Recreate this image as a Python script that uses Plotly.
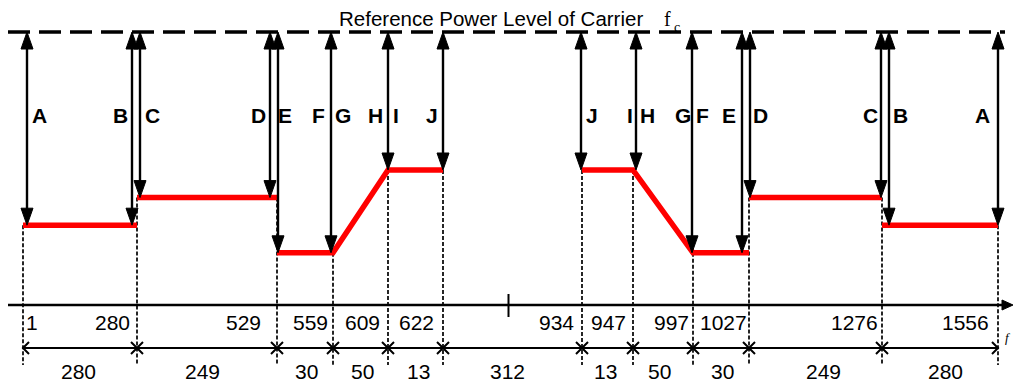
import plotly.graph_objects as go

# ---- data -------------------------------------------------------------
# Subcarrier index at each boundary of the spectrum mask
edge_index = [1, 280, 529, 559, 609, 622, 934, 947, 997, 1027, 1276, 1556]
# Number of subcarriers in each span between boundaries
span_width = [280, 249, 30, 50, 13, 312, 13, 50, 30, 249, 280]
# Mask level (steps below the carrier reference) at start / end of each span; None = no mask
span_level_start = [-7, -6, -8, -8, -5, None, -5, -5, -8, -6, -7]
span_level_end = [-7, -6, -8, -5, -5, None, -5, -8, -8, -6, -7]
# Level reached by each measurement arrow
arrow_level = [-7, -7, -6, -6, -8, -8, -5, -5, -5, -5, -8, -8, -6, -6, -7, -7]
# Letters naming the measured offsets
letter_text = ["A", "B", "C", "D", "E", "F", "G", "H", "I", "J",
               "J", "I", "H", "G", "F", "E", "D", "C", "B", "A"]

# ---- schematic placement (the drawing is not to scale) -----------------
edge_pos = [23, 137, 277, 333, 388, 443, 582, 633, 693, 749, 882, 998]
arrow_pos = [27, 132, 140, 270, 278, 331, 388, 443, 581, 636, 692, 742, 750, 881, 889, 998]
letter_pos = [39, 120, 152, 258, 285, 318, 343, 375, 396, 432,
              592, 630, 647, 683, 702, 729, 760, 870, 900, 982]
edge_label_pos = [32, 112, 243, 310, 362, 416, 556, 608, 671, 723, 854, 965]
span_label_pos = [78, 202, 306, 362, 418, 507, 605, 659, 722, 823, 945]

W, H = 1013, 382
Y0_PX = 32          # pixel row of the carrier reference line
PX_PER_STEP = 27.6  # pixels per level step


def lvl(py):
    """Pixel row -> level units."""
    return (Y0_PX - py) / PX_PER_STEP


def paper_y(py):
    return 1 - py / H


FONT = "Liberation Sans, Arial, sans-serif"
SERIF = "Liberation Serif, Times New Roman, serif"
BLACK = "#000000"

fig = go.Figure()

# carrier reference line
fig.add_trace(go.Scatter(x=[8, 1005], y=[0, 0], mode="lines",
                         line=dict(color=BLACK, width=3.5, dash="22px,9px")))

# vertical dashed guides at every boundary
gx, gy = [], []
bottom_guide = lvl(365)
for i, xp in enumerate(edge_pos):
    adj = []
    if i > 0 and span_level_end[i - 1] is not None:
        adj.append(span_level_end[i - 1])
    if i < len(span_level_start) and span_level_start[i] is not None:
        adj.append(span_level_start[i])
    top = max(adj)
    gx += [xp, xp, None]
    gy += [top, bottom_guide, None]
fig.add_trace(go.Scatter(x=gx, y=gy, mode="lines",
                         line=dict(color=BLACK, width=1.7, dash="4px,2px")))

# red mask line
rx, ry = [], []
prev_end = None
for i in range(len(span_width)):
    s, e = span_level_start[i], span_level_end[i]
    if s is None:
        rx.append(None)
        ry.append(None)
        prev_end = None
        continue
    if prev_end is None or prev_end != s:
        if rx:
            rx.append(None)
            ry.append(None)
        rx.append(edge_pos[i])
        ry.append(s)
    rx.append(edge_pos[i + 1])
    ry.append(e)
    prev_end = e
fig.add_trace(go.Scatter(x=rx, y=ry, mode="lines",
                         line=dict(color="#ff0000", width=5.5)))

# double-headed measurement arrows
head_len = 17 / PX_PER_STEP
head_half = 6
sx, sy, hx, hy = [], [], [], []
for xp, lv in zip(arrow_pos, arrow_level):
    sx += [xp, xp, None]
    sy += [-head_len * 0.5, lv + head_len * 0.5, None]
    # head pointing up at the reference line
    hx += [xp, xp - head_half, xp + head_half, xp, None]
    hy += [0, -head_len, -head_len, 0, None]
    # head pointing down onto the mask level
    hx += [xp, xp - head_half, xp + head_half, xp, None]
    hy += [lv, lv + head_len, lv + head_len, lv, None]
fig.add_trace(go.Scatter(x=sx, y=sy, mode="lines", line=dict(color=BLACK, width=2.4)))
fig.add_trace(go.Scatter(x=hx, y=hy, mode="lines", fill="toself", fillcolor=BLACK,
                         line=dict(color=BLACK, width=1)))

# frequency axis with arrow
ax_y = lvl(305)
fig.add_trace(go.Scatter(x=[8, 1004], y=[ax_y, ax_y], mode="lines",
                         line=dict(color=BLACK, width=2.4)))
fig.add_trace(go.Scatter(x=[1013, 1002, 1002, 1013], y=[ax_y, ax_y + 5 / PX_PER_STEP,
                                                        ax_y - 5 / PX_PER_STEP, ax_y],
                         mode="lines", fill="toself", fillcolor=BLACK,
                         line=dict(color=BLACK, width=1)))
centre_x = (edge_pos[5] + edge_pos[6]) / 2 - 4
fig.add_trace(go.Scatter(x=[centre_x, centre_x], y=[lvl(294), lvl(317)], mode="lines",
                         line=dict(color=BLACK, width=2)))

# span dimension line
dim_y = lvl(348)
fig.add_trace(go.Scatter(x=[edge_pos[0], edge_pos[-1]], y=[dim_y, dim_y], mode="lines",
                         line=dict(color=BLACK, width=2)))
fig.add_trace(go.Scatter(x=edge_pos[1:-1], y=[dim_y] * (len(edge_pos) - 2), mode="markers",
                         marker=dict(symbol="x-thin", size=12,
                                     line=dict(color=BLACK, width=2))))
ch = 6 / PX_PER_STEP
fig.add_trace(go.Scatter(
    x=[edge_pos[0] + 6, edge_pos[0], edge_pos[0] + 6, None,
       edge_pos[-1] - 6, edge_pos[-1], edge_pos[-1] - 6],
    y=[dim_y + ch, dim_y, dim_y - ch, None, dim_y + ch, dim_y, dim_y - ch],
    mode="lines", line=dict(color=BLACK, width=2)))

# ---- text -------------------------------------------------------------
ann = []


def label(x, py, text, size, family=FONT, weight="normal", style="normal", xanchor="center"):
    ann.append(dict(x=x, y=paper_y(py), xref="x", yref="paper", text=text,
                    showarrow=False,
                    font=dict(family=family, size=size, color=BLACK, weight=weight, style=style),
                    xanchor=xanchor, yanchor="middle"))


label(491, 19, "Reference Power Level of Carrier", 20.5)
label(662, 19, "f", 20, family=SERIF, xanchor="left")
label(672, 28, "c", 14, family=SERIF, xanchor="left")
label(1003, 337, "f", 13, family=SERIF, style="italic", xanchor="left")
for t, xp in zip(letter_text, letter_pos):
    label(xp, 115, t, 21, weight="bold")
for v, xp in zip(edge_index, edge_label_pos):
    label(xp, 322, str(v), 21)
for v, xp in zip(span_width, span_label_pos):
    label(xp, 371, str(v), 21)

fig.update_layout(
    width=W, height=H,
    margin=dict(l=0, r=0, t=0, b=0, pad=0),
    paper_bgcolor="white", plot_bgcolor="white",
    showlegend=False,
    xaxis=dict(range=[0, W], visible=False, fixedrange=True),
    yaxis=dict(range=[lvl(H), lvl(0)], visible=False, fixedrange=True),
    annotations=ann,
)

fig.write_html("out.html")
